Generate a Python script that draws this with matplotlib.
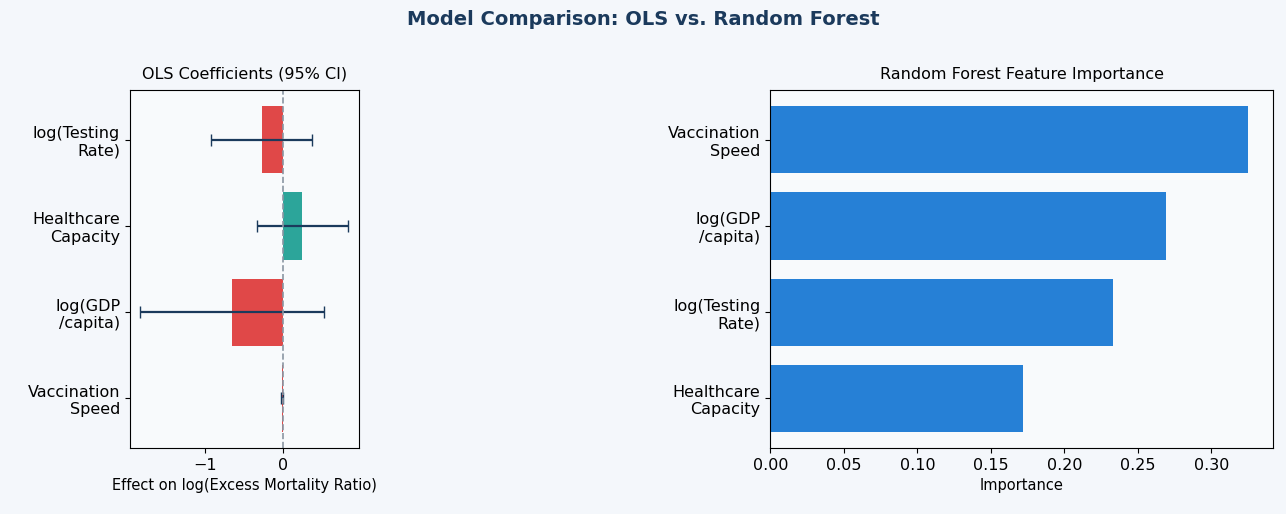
import matplotlib.pyplot as plt
import numpy as np
import pandas as pd
def main():
    ols_df = pd.DataFrame({
        'feature': ['Vaccination\nSpeed', 'log(GDP\n/capita)', 'Healthcare\nCapacity', 'log(Testing\nRate)'],
        'coef': [-0.01, -0.65, 0.25, -0.27],
        'low': [-0.025, -1.84, -0.33, -0.92],
        'high': [0.005, 0.53, 0.84, 0.37]})
    rf_df = pd.DataFrame({
        'feature': ['Healthcare\nCapacity', 'log(Testing\nRate)', 'log(GDP\n/capita)', 'Vaccination\nSpeed'],
        'importance': [0.172, 0.233, 0.269, 0.325]})


    fig = plt.figure(figsize=(12.86, 5.14), dpi=100, facecolor='#F4F7FB')
    plt.subplot(1, 2, 1, facecolor='#F8FAFC')
    y1 = np.arange(len(ols_df))
    colors = ['#2CA59A' if c > 0 else '#E04848' for c in ols_df['coef']]
    plt.barh(y1, ols_df['coef'], color=colors, height=0.78)
    err = [ols_df['coef'] - ols_df['low'], ols_df['high'] - ols_df['coef']]
    plt.errorbar(ols_df['coef'], y1, xerr=err, fmt='none', ecolor='#1B3A5C', capsize=4, lw=1.6)
    plt.axvline(0, color='#8A96A3', ls='--', lw=1.2)
    plt.yticks(y1, ols_df['feature'], fontsize=11.5)
    plt.xticks(fontsize=11.5)
    plt.xlim(-1.97, 0.98)
    plt.xlabel("Effect on log(Excess Mortality Ratio)", fontsize=10.5)
    plt.title("OLS Coefficients (95% CI)", fontsize=11.5, pad=8)

    plt.subplot(1, 2, 2, facecolor='#F8FAFC')
    y2 = np.arange(len(rf_df))
    plt.barh(y2, rf_df['importance'], color='#2680D6', height=0.78)
    plt.yticks(y2, rf_df['feature'], fontsize=11.5)
    plt.xticks(fontsize=11.5)
    plt.xlim(0, 0.342)
    plt.xlabel("Importance", fontsize=10.5)
    plt.title("Random Forest Feature Importance", fontsize=11.5, pad=8)

    plt.suptitle("Model Comparison: OLS vs. Random Forest", fontsize=14, fontweight='bold', color='#1B3A5C', y=0.98)
    plt.subplots_adjust(left=0.101, right=0.493, top=0.825, bottom=0.128)
    fig.axes[1].set_position([0.599, 0.128, 0.391, 0.697])
    plt.savefig('out.png', facecolor=fig.get_facecolor())

if __name__ == '__main__':
    main()
